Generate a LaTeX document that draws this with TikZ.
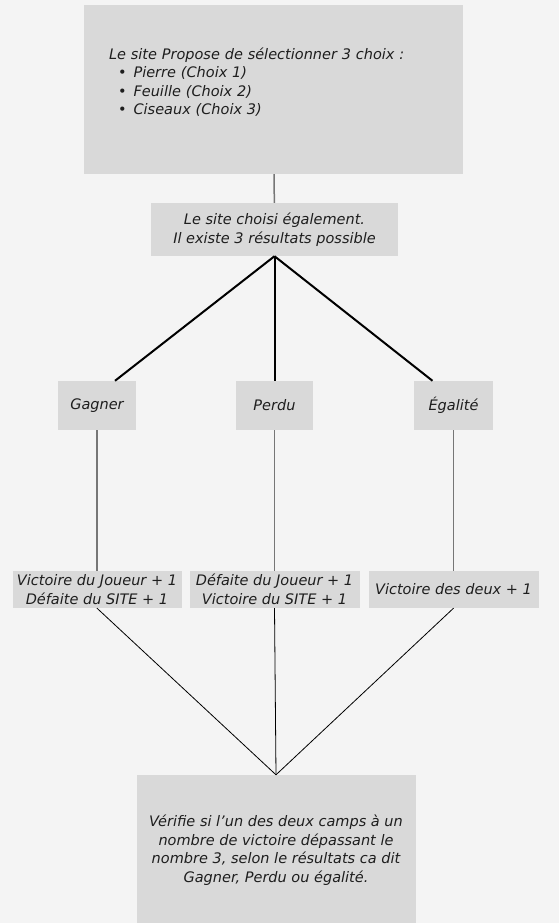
\documentclass[tikz,border=0pt]{standalone}
\usepackage{fontspec}
\setmainfont{DejaVu Sans}
\usepackage{tikz}
\usetikzlibrary{arrows}

\definecolor{pagegrey}{HTML}{F4F4F4}
\definecolor{boxgrey}{HTML}{D9D9D9}
\definecolor{linegrey}{HTML}{767676}
\definecolor{ink}{HTML}{1E1E1E}

\begin{document}
\begin{tikzpicture}[x=1pt, y=1pt, node distance=140pt]
		\tikzstyle{box} = [fill=boxgrey, inner sep=0pt, text=ink, align=center, font=\itshape\fontsize{14.5}{18.5}\selectfont]
		\tikzstyle{greyline} = [draw=linegrey, line width=1.5pt]
		\tikzstyle{boldline} = [draw=black, line width=2pt]
		\tikzstyle{thinline} = [draw=black, line width=0.8pt]

		\fill[pagegrey] (0,0) rectangle (559,-923);
		\useasboundingbox (0,0) rectangle (559,-923);

		\path
		node[box, minimum width=379pt, minimum height=169pt, text width=329pt, align=left, text depth=72pt] (site) at (273.5,-89.5)
			{Le site Propose de sélectionner 3 choix :\\
			\hspace*{9pt}\textbullet\hspace{7pt}Pierre (Choix 1)\\
			\hspace*{9pt}\textbullet\hspace{7pt}Feuille (Choix 2)\\
			\hspace*{9pt}\textbullet\hspace{7pt}Ciseaux (Choix 3)}
		node[box, below of=site, xshift=1pt, minimum width=247pt, minimum height=53pt] (choix)
			{Le site choisi également.\\Il existe 3 résultats possible}
		node[box, below of=choix, node distance=176pt, xshift=-177.5pt, minimum width=78pt, minimum height=49pt] (gagner) {Gagner}
		node[box, below of=choix, node distance=176pt, minimum width=77pt, minimum height=49pt] (perdu) {Perdu}
		node[box, below of=choix, node distance=176pt, xshift=179pt, minimum width=79pt, minimum height=49pt] (egalite) {Égalité}
		node[box, below of=gagner, node distance=184pt, minimum width=169pt, minimum height=37pt] (resgagner)
			{Victoire du Joueur + 1\\Défaite du SITE + 1}
		node[box, below of=perdu, node distance=184pt, minimum width=170pt, minimum height=37pt] (resperdu)
			{Défaite du Joueur + 1\\Victoire du SITE + 1}
		node[box, below of=egalite, node distance=184pt, minimum width=170pt, minimum height=37pt] (resegalite)
			{Victoire des deux + 1}
		node[box, below of=resperdu, node distance=260.5pt, xshift=1.5pt, minimum width=279pt, minimum height=150pt] (verif)
			{Vérifie si l’un des deux camps à un\\nombre de victoire dépassant le\\nombre 3, selon le résultats ca dit\\Gagner, Perdu ou égalité.}

		(site) edge[greyline] (choix)
		(choix.south) edge[boldline] ([xshift=18pt]gagner.north)
		(choix.south) edge[boldline] (perdu.north)
		(choix.south) edge[boldline] ([xshift=-21pt]egalite.north)
		(gagner) edge[greyline] (resgagner)
		(perdu) edge[greyline] (resperdu)
		(egalite) edge[greyline] (resegalite)
		(resgagner.south) edge[thinline] (verif.north)
		(resperdu.south) edge[thinline] (verif.north)
		(resegalite.south) edge[thinline] (verif.north)
		;
		\end{tikzpicture}
\end{document}
